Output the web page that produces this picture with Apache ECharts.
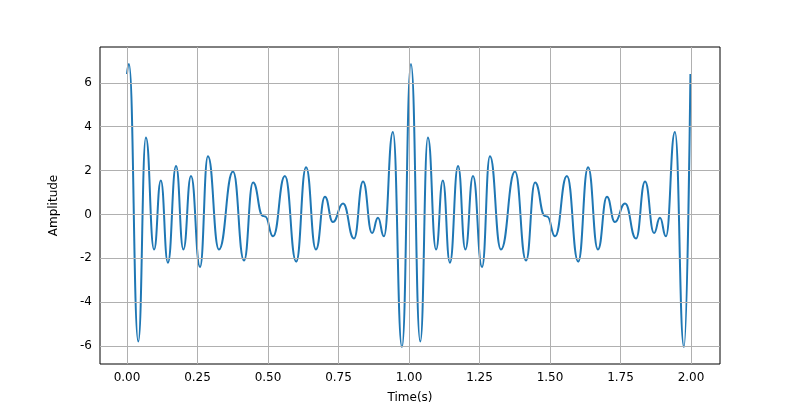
<!DOCTYPE html>
<html>
<head>
<meta charset="utf-8">
<script src="https://cdn.jsdelivr.net/npm/echarts@6/dist/echarts.min.js"></script>
<style>html,body{margin:0;padding:0;background:#fff;}#chart{width:800px;height:409px;}</style>
</head>
<body>
<div id="chart"></div>
<script>
// extrema, period 1 and period 2
var times = [0, 0.007, 0.04, 0.067, 0.096, 0.12, 0.145, 0.174, 0.2, 0.227, 0.259, 0.287, 0.326, 0.376, 0.415, 0.447, 0.482, 0.49, 0.518, 0.56, 0.6, 0.635, 0.67, 0.702, 0.73, 0.766, 0.805, 0.837, 0.869, 0.89, 0.911, 0.943, 0.975,
	1.007, 1.04, 1.067, 1.096, 1.12, 1.145, 1.174, 1.2, 1.227, 1.259, 1.287, 1.326, 1.376, 1.415, 1.447, 1.482, 1.49, 1.518, 1.56, 1.6, 1.635, 1.67, 1.702, 1.73, 1.766, 1.805, 1.837, 1.869, 1.89, 1.911, 1.943, 1.975, 1.998];
var amps = [6.4, 6.85, -5.8, 3.5, -1.6, 1.55, -2.2, 2.2, -1.6, 1.75, -2.4, 2.65, -1.6, 1.95, -2.1, 1.45, -0.07, -0.1, -1.0, 1.75, -2.15, 2.15, -1.6, 0.8, -0.35, 0.5, -1.1, 1.5, -0.85, -0.15, -1.0, 3.75, -6.05,
	6.85, -5.8, 3.5, -1.6, 1.55, -2.2, 2.2, -1.6, 1.75, -2.4, 2.65, -1.6, 1.95, -2.1, 1.45, -0.07, -0.1, -1.0, 1.75, -2.15, 2.15, -1.6, 0.8, -0.35, 0.5, -1.1, 1.5, -0.85, -0.15, -1.0, 3.75, -6.05, 6.4];
var xTicks = [0, 0.25, 0.5, 0.75, 1.0, 1.25, 1.5, 1.75, 2.0];
var yTicks = [-6, -4, -2, 0, 2, 4, 6];

var pts = [];
for (var i = 0; i < times.length; i++) pts.push([times[i], amps[i]]);

var font = 'DejaVu Sans';
var chart = echarts.init(document.getElementById('chart'));
chart.setOption({
	animation: false,
	grid: { left: 100, right: 80, top: 47, bottom: 43, show: true, borderColor: '#000', borderWidth: 1 },
	xAxis: {
		type: 'value', min: -0.0957, max: 2.1028,
		name: 'Time(s)', nameLocation: 'middle', nameGap: 28,
		nameTextStyle: { color: '#000', fontFamily: font, fontSize: 12 },
		axisLine: { show: false },
		axisTick: { show: true, customValues: xTicks, length: 4, inside: false, lineStyle: { color: '#000' } },
		axisLabel: { customValues: xTicks, color: '#000', fontFamily: font, fontSize: 12, margin: 8,
			formatter: function (v) { return v.toFixed(2); } },
		splitLine: { show: false }
	},
	yAxis: {
		type: 'value', min: -6.82, max: 7.63,
		name: 'Amplitude', nameLocation: 'middle', nameGap: 40,
		nameTextStyle: { color: '#000', fontFamily: font, fontSize: 12 },
		axisLine: { show: false },
		axisTick: { show: true, customValues: yTicks, length: 4, lineStyle: { color: '#000' } },
		axisLabel: { customValues: yTicks, color: '#000', fontFamily: font, fontSize: 12, margin: 8 },
		splitLine: { show: false }
	},
	series: [{
		type: 'line', data: pts, showSymbol: false, smooth: 0.5, smoothMonotone: 'x',
		lineStyle: { color: '#1f77b4', width: 2 },
		markLine: {
			silent: true, symbol: 'none', label: { show: false },
			lineStyle: { color: '#b0b0b0', type: 'solid', width: 1 },
			data: xTicks.map(function (v) { return { xAxis: v }; }).concat(yTicks.map(function (v) { return { yAxis: v }; }))
		},
		z: 3
	}]
});
</script>
</body>
</html>
